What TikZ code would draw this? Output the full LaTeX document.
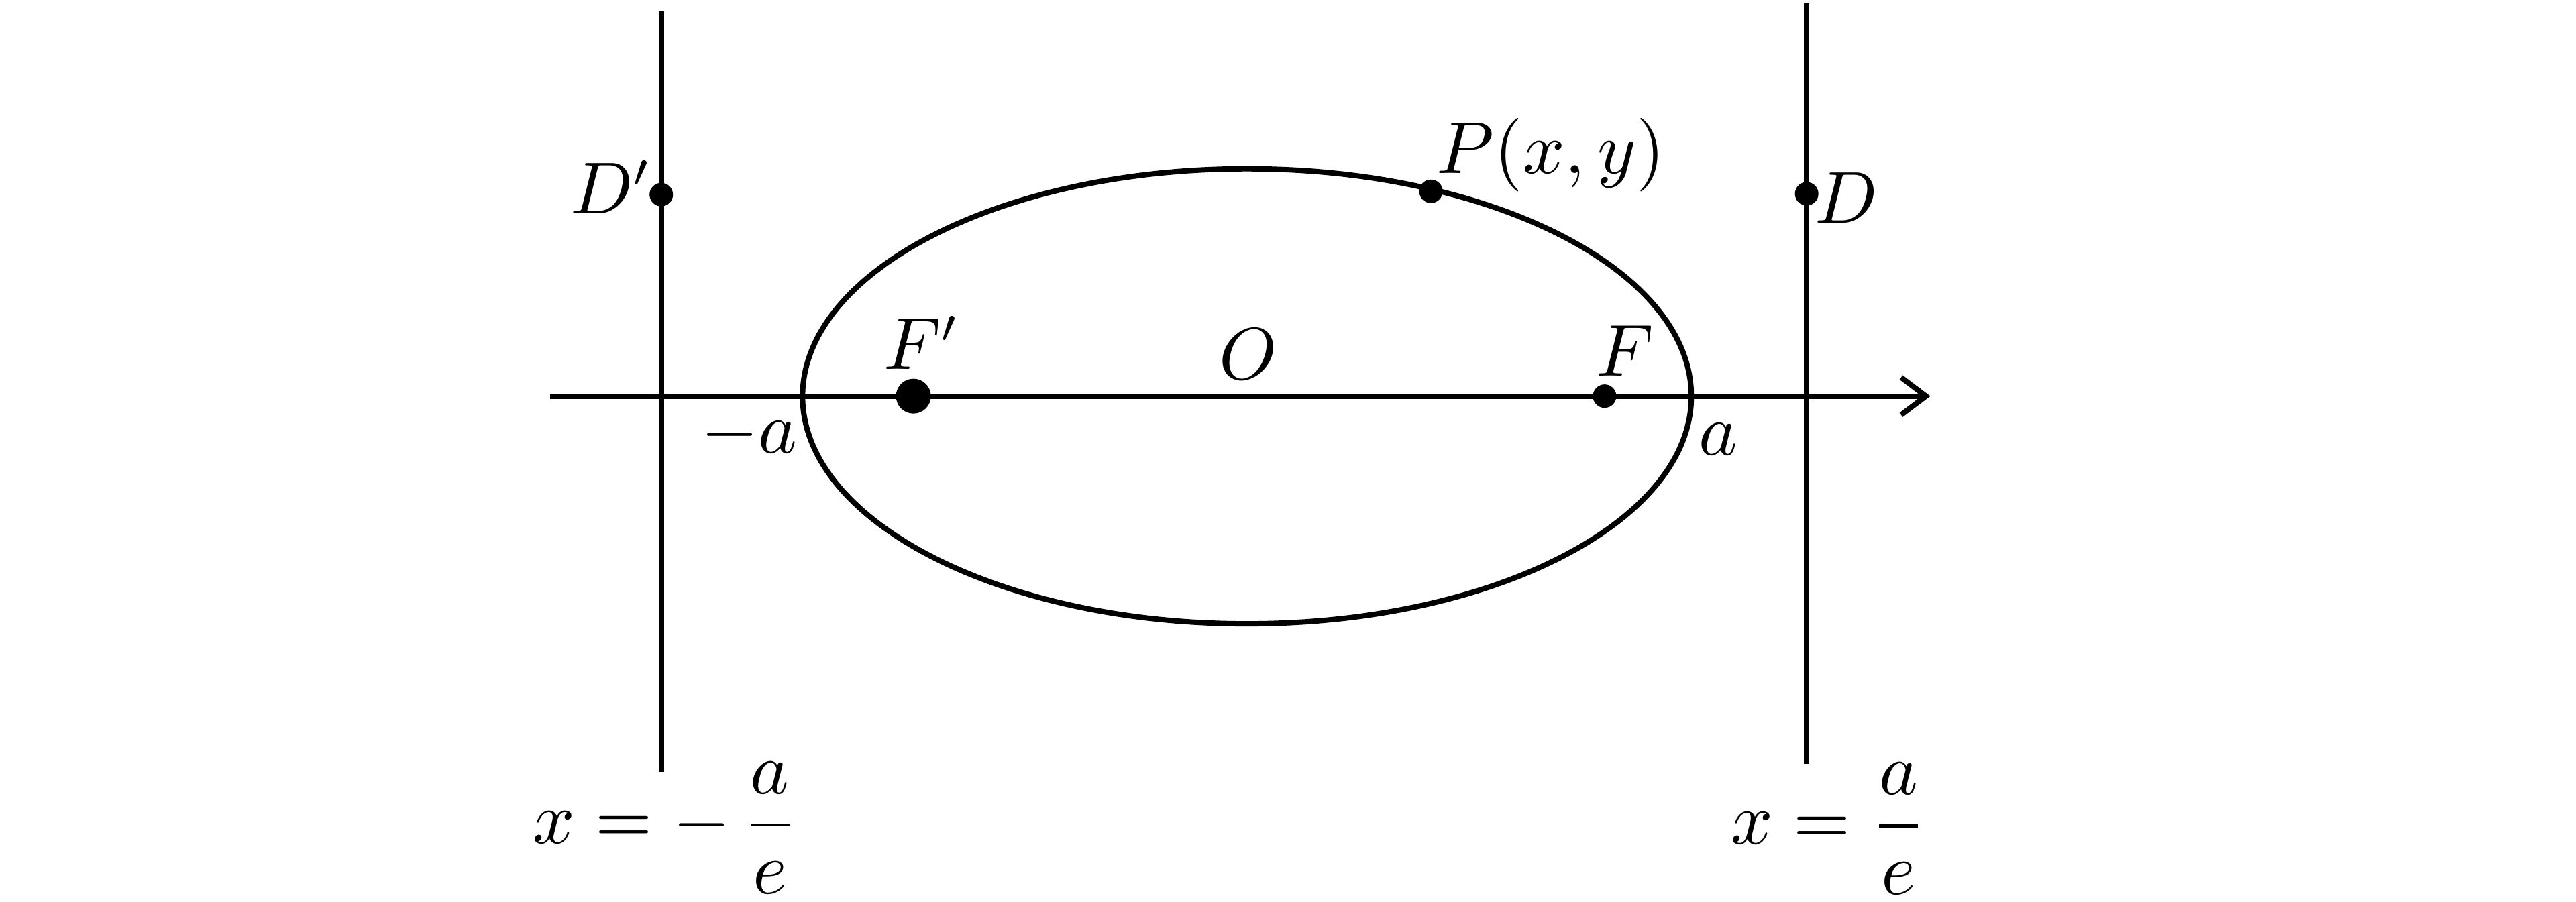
\documentclass[tikz,border=0pt]{standalone}
\usepackage{amsmath}
\usetikzlibrary{arrows.meta}
\begin{document}
\begin{tikzpicture}[x=0.0086cm,y=-0.0086cm, line width=0.8pt,
  lbl/.style={inner sep=0pt, font=\fontsize{10.5}{12.6}\selectfont},
  bigdot/.style={circle, fill=black, inner sep=0pt, minimum size=5.2pt},
  smalldot/.style={circle, fill=black, inner sep=0pt, minimum size=3.5pt}]
\useasboundingbox (0,0) rectangle (1568,549.2);
% axis and directrices
\coordinate (axL) at (335,241.2);
\coordinate (axR) at (1175,241.2);
\coordinate (dLt) at (402.5,7);
\coordinate (dLb) at (402.5,470);
\coordinate (dRt) at (1099.7,2);
\coordinate (dRb) at (1099.7,465);
\draw[-{Straight Barb[length=3.7pt,width=5.6pt]}] (axL) -- (axR);
\draw (dLt) -- (dLb);
\draw (dRt) -- (dRb);
% ellipse
\draw (759,241.3) ellipse [x radius=270.5, y radius=138.5];
% points
\node[bigdot] (Fp) at (556,241.2) {};
\node[smalldot] (F) at (976.7,241.2) {};
\node[smalldot] (Dp) at (402.5,118.5) {};
\node[smalldot] (D) at (1099.7,118) {};
\node[smalldot] (P) at (871,116.5) {};
% labels
\node[lbl, anchor=base] (Dpl) at (372,130) {$D'$};
\node[lbl, anchor=base west] (Pl) at (873,105.7) {$P(x,y)$};
\node[lbl, anchor=base] (Dl) at (1124,135.8) {$D$};
\node[lbl, anchor=base] (Fpl) at (561,224.7) {$F'$};
\node[lbl, anchor=base] (Fl) at (989,228.8) {$F$};
\node[lbl, anchor=base] (Ol) at (760,231) {$O$};
\node[lbl, anchor=base] (ml) at (456,276) {$-a$};
\node[lbl, anchor=base] (al) at (1046,277) {$a$};
\node[lbl, anchor=base] (eqL) at (405,513.5) {$x = -\,\dfrac{a}{e}$};
\node[lbl, anchor=base] (eqR) at (1113,514) {$x = \dfrac{a}{e}$};
\end{tikzpicture}
\end{document}
